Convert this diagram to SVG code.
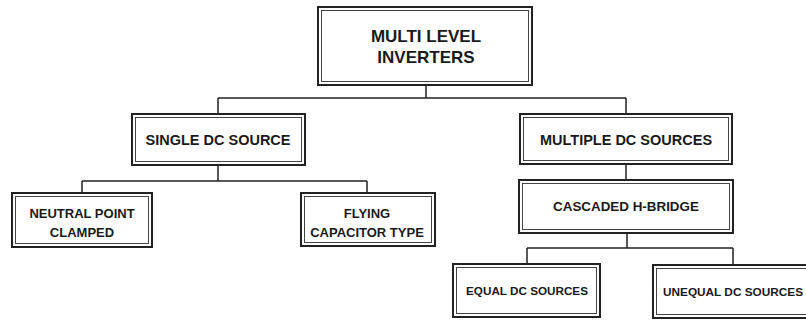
<svg xmlns="http://www.w3.org/2000/svg" width="806" height="320" viewBox="0 0 806 320">
<style>
.outer{fill:#fff;stroke:#222;stroke-width:2}
.inner{fill:none;stroke:#444;stroke-width:1}
.t{font-family:"Liberation Sans",Arial,sans-serif;font-weight:bold;fill:#1a1a1a;text-anchor:middle}
.c{fill:none;stroke:#222;stroke-width:1.5}
</style>
<rect width="806" height="320" fill="#fff"/>
<g id="connectors">
<path class="c" d="M426 85V98M218 98H626M218 98V114M626 98V114"/>
<path class="c" d="M218 165V181M82 181H367M82 181V193M367 181V193"/>
<path class="c" d="M626 164V180"/>
<path class="c" d="M627 233V248M527 248H733M527 248V264M733 248V265"/>
</g>
<g id="n-mli">
<rect class="outer" x="318" y="7" width="214" height="78"/>
<rect class="inner" x="321.5" y="10.5" width="207" height="71"/>
<text class="t" x="426" y="42" font-size="17">MULTI LEVEL</text>
<text class="t" x="426" y="63" font-size="17">INVERTERS</text>
</g>
<g id="n-single">
<rect class="outer" x="132" y="114" width="173" height="51"/>
<rect class="inner" x="135.5" y="117.5" width="166" height="44"/>
<text class="t" x="218" y="145" font-size="14.5">SINGLE DC SOURCE</text>
</g>
<g id="n-multiple">
<rect class="outer" x="520" y="114" width="212" height="50"/>
<rect class="inner" x="523.5" y="117.5" width="205" height="43"/>
<text class="t" x="626" y="145" font-size="14.5">MULTIPLE DC SOURCES</text>
</g>
<g id="n-npc">
<rect class="outer" x="12" y="193" width="140" height="54"/>
<rect class="inner" x="15.5" y="196.5" width="133" height="47"/>
<text class="t" x="82" y="218" font-size="13">NEUTRAL POINT</text>
<text class="t" x="82" y="237" font-size="13">CLAMPED</text>
</g>
<g id="n-flying">
<rect class="outer" x="301" y="193" width="134" height="53"/>
<rect class="inner" x="304.5" y="196.5" width="127" height="46"/>
<text class="t" x="367" y="218" font-size="13">FLYING</text>
<text class="t" x="367" y="237" font-size="13">CAPACITOR TYPE</text>
</g>
<g id="n-cascaded">
<rect class="outer" x="519" y="180" width="214" height="53"/>
<rect class="inner" x="522.5" y="183.5" width="207" height="46"/>
<text class="t" x="626" y="211" font-size="13.4">CASCADED H-BRIDGE</text>
</g>
<g id="n-equal">
<rect class="outer" x="453" y="264" width="147" height="53"/>
<rect class="inner" x="456.5" y="267.5" width="140" height="46"/>
<text class="t" x="527" y="294.5" font-size="11.7">EQUAL DC SOURCES</text>
</g>
<g id="n-unequal">
<rect class="outer" x="653" y="265" width="160" height="53"/>
<rect class="inner" x="656.5" y="268.5" width="153" height="46"/>
<text class="t" x="733" y="295.5" font-size="11.8">UNEQUAL DC SOURCES</text>
</g>
</svg>
